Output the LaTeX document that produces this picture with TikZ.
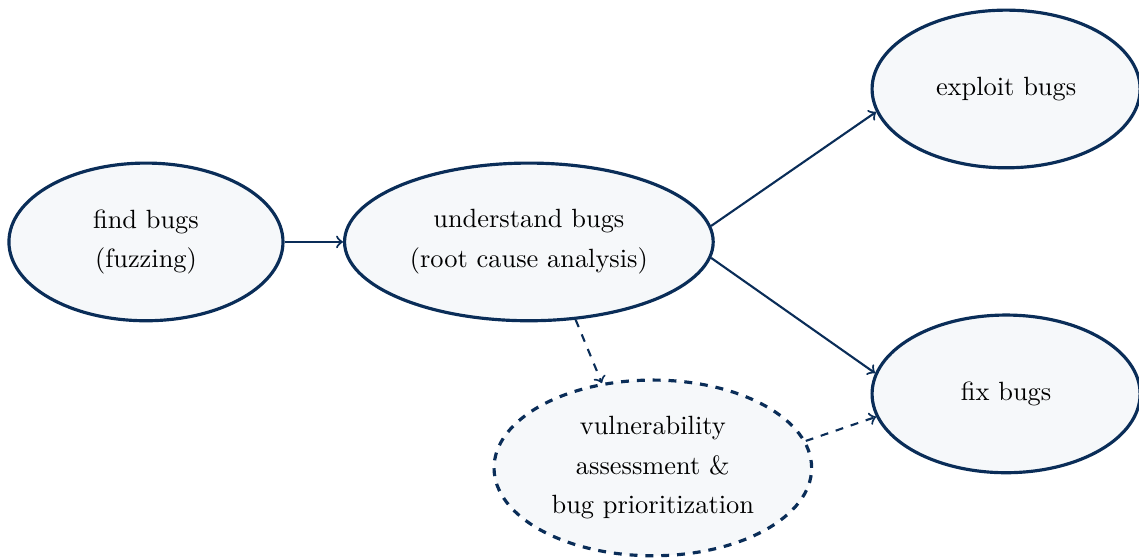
\documentclass[tikz,border=0pt]{standalone}
\usetikzlibrary{shapes.geometric}
\definecolor{navy}{RGB}{10,45,88}
\definecolor{paleblue}{RGB}{246,248,250}
\begin{document}
\begin{tikzpicture}[
    stage/.style={ellipse, draw=navy, very thick, fill=paleblue, align=center,
                  minimum height=2.1cm, inner sep=0pt},
    flow/.style={->, navy, thick},
  ]
  \useasboundingbox (0,0) rectangle (15.17,-7.44);
  \node[stage, minimum width=3.65cm] (find) at (1.944,-3.222) {find bugs\\[3pt](fuzzing)};
  \node[stage, minimum width=4.91cm] (understand) at (7.044,-3.222) {understand bugs\\[3pt](root cause analysis)};
  \node[stage, minimum width=3.57cm] (exploit) at (13.40,-1.185) {exploit bugs};
  \node[stage, minimum width=3.57cm] (fix) at (13.40,-5.246) {fix bugs};
  \node[stage, dashed, minimum width=4.23cm, minimum height=2.34cm] (assess) at (8.695,-6.232)
    {vulnerability\\[3pt]assessment \&\\[3pt]bug prioritization};
  \draw[flow] (find) -- (understand);
  \draw[flow] (understand.5) -- (exploit.190);
  \draw[flow] (understand.-5) -- (fix.171);
  \draw[flow, dashed] (understand.-59.5) -- (assess.121.5);
  \draw[flow, dashed] (assess.10.4) -- (fix.190.6);
\end{tikzpicture}
\end{document}
